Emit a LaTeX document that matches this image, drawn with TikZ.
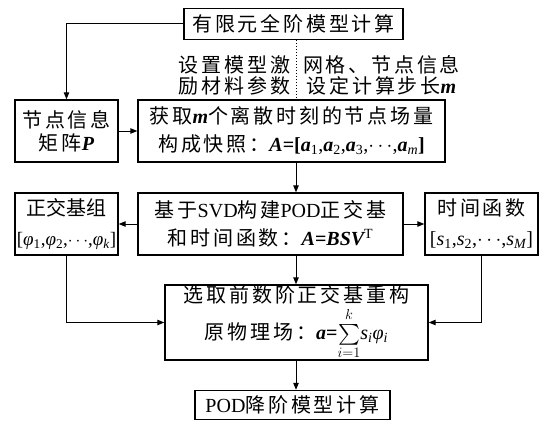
\documentclass[tikz,border=0pt]{standalone}
\usepackage{exscale}
\usepackage[no-math]{fontspec}
\setmainfont{Noto Sans CJK SC}[LetterSpace=14]
\newfontfamily\cjktight{Noto Sans CJK SC}
\newfontfamily\lat{Liberation Serif}
\usetikzlibrary{arrows.meta}
\newcommand{\bi}[1]{{\lat\bfseries\itshape #1}}
\newcommand{\li}[1]{{\lat\itshape #1}}
\newcommand{\lr}[1]{{\lat #1}}
\newcommand{\sbr}[1]{\textsubscript{\lat\mdseries\upshape #1}}
\newcommand{\sbi}[1]{\textsubscript{\lat\mdseries\itshape #1}}
\tikzset{
  box/.style={draw, line width=1.4pt, inner sep=0pt, align=center},
  lbl/.style={inner sep=0pt, align=center, font=\fontsize{20}{21.5}\selectfont},
  arr/.style={line width=1pt, -{Triangle[length=7pt,width=5.5pt]}},
}
\begin{document}
\begin{tikzpicture}[x=1pt,y=-1pt]
\useasboundingbox (0,0) rectangle (543,420);
\coordinate (cx) at (296,0);

\node[box, minimum width=219pt, minimum height=31pt, font=\fontsize{20}{24}\selectfont] (box1) at (293.5,24) {有限元全阶模型计算};

\node[lbl] (l1) at (234.5,75.5) {设置模型激\\励材料参数};
\node[lbl] (l2) at (381.5,75.5) {网格、节点信息\\设定计算步长\bi{m}};

\node[box, minimum width=103pt, minimum height=62pt, font=\fontsize{20}{23}\selectfont] (box2) at (66.5,131) {节点信息\\矩阵\bi{P}};

\node[box, minimum width=307pt, minimum height=62pt, font=\fontsize{20}{28}\selectfont] (box3) at (291.5,131)
  {获取\bi{m}个离散时刻的节点场量\\构成快照：\bi{A}{\lat\bfseries =[}\bi{a}\sbr{1}{\lat ,}\bi{a}\sbr{2}{\lat ,}\bi{a}\sbr{3}{\lat ,}$\cdots${\lat ,}\bi{a}\sbi{m}{\lat\bfseries ]}};

\node[box, minimum width=103pt, minimum height=62pt, font=\fontsize{20}{30}\selectfont] (box4L) at (66.5,224)
  {{\cjktight 正交基组}\\{\fontsize{19}{30}\selectfont\lat [\li{φ}\sbr{1},\li{φ}\sbr{2},$\cdots$,\li{φ}\sbi{k}]}};

\node[box, minimum width=265pt, minimum height=62pt, font=\fontsize{20}{28}\selectfont] (box4C) at (270.5,224)
  {基于\lr{SVD}构建\lr{POD}正交基\\和时间函数：\bi{A}{\lat\bfseries =}\bi{BSV}\textsuperscript{\lat T}};

\node[box, minimum width=113pt, minimum height=62pt, font=\fontsize{20}{30}\selectfont] (box4R) at (481.5,224)
  {时间函数\\{\lat [\li{s}\sbr{1},\li{s}\sbr{2},$\cdots$,\li{s}\sbi{M}]}};

\node[box, minimum width=263pt, minimum height=75pt, font=\fontsize{20}{28}\selectfont] (box5) at (296.5,322.5)
  {选取前数阶正交基重构\\[3pt]原物理场：\bi{a}{\lat\bfseries =}$\sum\limits_{i=1}^{k}$\li{s}\sbi{i}\li{φ}\sbi{i}};

\node[box, minimum width=195pt, minimum height=29pt, font=\fontsize{20}{24}\selectfont] (box6) at (292.5,405)
  {\lr{POD}降阶模型计算};

\draw[arr] (box1.west) -| (box2.north);
\draw[line width=1pt, dotted] (box1.south -| cx) -- (box3.north -| cx);
\draw[arr] (box2.east) -- (box3.west);
\draw[arr] (box3.south -| cx) -- (box4C.north -| cx);
\draw[arr] (box4C.west) -- (box4L.east);
\draw[arr] (box4C.east) -- (box4R.west);
\draw[arr] (box4C.south -| cx) -- (box5.north -| cx);
\draw[arr] (box4L.south) |- (box5.west);
\draw[arr] (box4R.south) |- (box5.east);
\draw[arr] (box5.south -| cx) -- (box6.north -| cx);
\end{tikzpicture}
\end{document}
